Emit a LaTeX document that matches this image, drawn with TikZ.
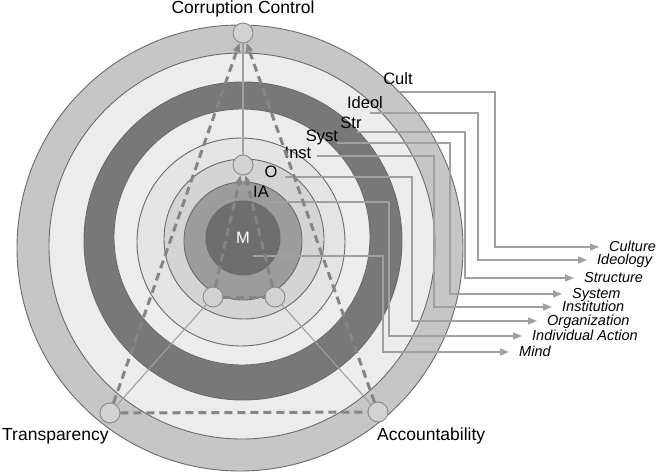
\documentclass[tikz,border=0pt]{standalone}
\usepackage{fontspec}
\setmainfont{Liberation Sans}
\usetikzlibrary{arrows.meta}

\definecolor{cultgray}{HTML}{C6C6C6}
\definecolor{palegray}{HTML}{ECECEC}
\definecolor{strgray}{HTML}{787878}
\definecolor{instgray}{HTML}{E4E4E4}
\definecolor{orggray}{HTML}{D4D4D4}
\definecolor{iagray}{HTML}{9C9C9C}
\definecolor{mindgray}{HTML}{6E6E6E}
\definecolor{edgegray}{HTML}{6A6A6A}
\definecolor{linkgray}{HTML}{A0A0A0}
\definecolor{dashgray}{HTML}{858585}
\definecolor{knotgray}{HTML}{D2D2D2}

\begin{document}
\begin{tikzpicture}[x=1pt,y=-1pt,>={Triangle[length=9pt,width=7pt]},
    ring/.style={draw=edgegray,line width=0.9pt},
    knot/.style={circle,draw=edgegray!80,fill=knotgray,line width=0.9pt,
        minimum size=20pt,inner sep=0pt},
    link/.style={draw=linkgray,line width=1.1pt},
    pull/.style={draw=dashgray,line width=3pt,dash pattern=on 8pt off 5pt},
    feed/.style={draw=linkgray,line width=1.4pt,->,color=linkgray,shorten >=9pt},
    lvl/.style={font=\fontsize{16.5}{18}\selectfont,inner sep=1pt},
    lvlname/.style={font=\fontsize{14.5}{16}\selectfont\itshape,anchor=west,
        inner sep=1pt,text height=11pt,text depth=3pt},
    goal/.style={font=\fontsize{17.5}{20}\selectfont,inner sep=1pt}]
    \useasboundingbox (0,0) rectangle (657,475);

    % rings, outside in
    \filldraw[ring,fill=cultgray] (240,248) circle[radius=223pt];
    \filldraw[ring,fill=palegray] (242,246) circle[radius=193pt];
    \filldraw[ring,fill=strgray]  (243,241) circle[radius=159pt];
    \filldraw[ring,fill=palegray] (242,237) circle[radius=128pt];
    \filldraw[ring,fill=instgray] (241,242) circle[radius=104pt];
    \filldraw[ring,fill=orggray]  (244,239) circle[radius=80pt];
    \filldraw[ring,fill=iagray]   (243,241) circle[radius=59pt];
    \filldraw[ring,fill=mindgray] (243,238) circle[radius=37pt];

    % ring labels
    \node[lvl] (cult)  at (398,79)  {Cult};
    \node[lvl] (ideol) at (365,103) {Ideol};
    \node[lvl] (str)   at (351,123) {Str};
    \node[lvl] (syst)  at (322,137) {Syst};
    \node[lvl] (inst)  at (298,153) {Inst};
    \node[lvl] (o)     at (271,172) {O};
    \node[lvl] (ia)    at (261,192) {IA};
    \node[lvl,text=white] (m) at (243,238) {M};

    \coordinate (cult-out)  at (397,92);
    \coordinate (ideol-out) at (370,113);
    \coordinate (str-out)   at (357,132);
    \coordinate (syst-out)  at (337,143);
    \coordinate (inst-out)  at (317,156);
    \coordinate (o-out)     at (285,177);
    \coordinate (ia-out)    at (263,202);
    \coordinate (m-out)     at (253,256);

    % level names
    \node[lvlname] (culture)   at (608,247) {Culture};
    \node[lvlname] (ideology)  at (596,260) {Ideology};
    \node[lvlname] (structure) at (583,278) {Structure};
    \node[lvlname] (system)    at (571,294) {System};
    \node[lvlname] (institution)  at (561,307) {Institution};
    \node[lvlname] (organization) at (546,321) {Organization};
    \node[lvlname] (individual)   at (531,336) {Individual Action};
    \node[lvlname] (mind)      at (518,352) {Mind};

    \draw[feed] (cult-out)  -| (495,247) -- (culture.west);
    \draw[feed] (ideol-out) -| (478,260) -- (ideology.west);
    \draw[feed] (str-out)   -| (465,278) -- (structure.west);
    \draw[feed] (syst-out)  -| (450,294) -- (system.west);
    \draw[feed] (inst-out)  -| (434,307) -- (institution.west);
    \draw[feed] (o-out)     -| (412,321) -- (organization.west);
    \draw[feed] (ia-out)    -| (389,336) -- (individual.west);
    \draw[feed] (m-out)     -| (383,352) -- (mind.west);

    % control points
    \node[knot] (cc) at (243,33)  {};
    \node[knot] (ci) at (243,165) {};
    \node[knot] (tr) at (110,413) {};
    \node[knot] (ac) at (378,412) {};
    \node[knot] (ti) at (213,297) {};
    \node[knot] (ai) at (275,297) {};

    \path
    (cc) edge[link] (ci)
    (tr) edge[link] (ti)
    (ac) edge[link] (ai);

    \path
    (tr) edge[pull,->] (cc)
    (ac) edge[pull,->] (cc)
    (tr) edge[pull]    (ac)
    (ti) edge[pull,->] (ci)
    (ai) edge[pull,->] (ci)
    (ti) edge[pull]    (ai);

    \node[goal] at (243,9) {Corruption Control};
    \node[goal,anchor=west] at (1,436) {Transparency};
    \node[goal,anchor=west] at (376,436) {Accountability};
\end{tikzpicture}
\end{document}
